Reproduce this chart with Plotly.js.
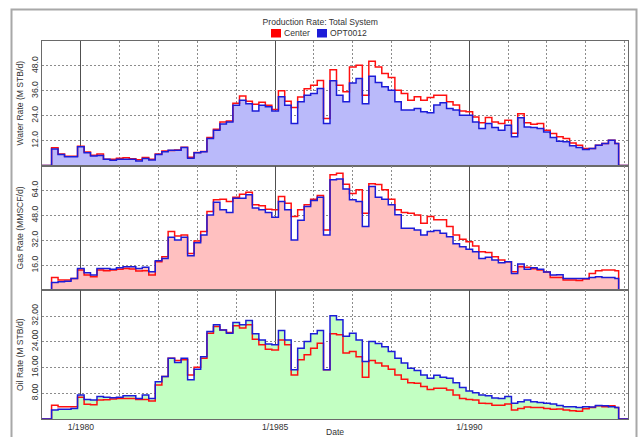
<!DOCTYPE html>
<html>
<head>
<meta charset="utf-8">
<script src="https://cdn.plot.ly/plotly-3.0.1.min.js"></script>
<style>html,body{margin:0;padding:0;background:#fff;}#chart{width:638px;height:437px;}</style>
</head>
<body>
<div id="chart"></div>
<script>
// Bi-monthly step dates (start of each step)
const dates = [
"1979-04","1979-06","1979-08","1979-10","1979-12",
"1980-02","1980-04","1980-06","1980-08","1980-10","1980-12",
"1981-02","1981-04","1981-06","1981-08","1981-10","1981-12",
"1982-02","1982-04","1982-06","1982-08","1982-10","1982-12",
"1983-02","1983-04","1983-06","1983-08","1983-10","1983-12",
"1984-02","1984-04","1984-06","1984-08","1984-10","1984-12",
"1985-02","1985-04","1985-06","1985-08","1985-10","1985-12",
"1986-02","1986-04","1986-06","1986-08","1986-10","1986-12",
"1987-02","1987-04","1987-06","1987-08","1987-10","1987-12",
"1988-02","1988-04","1988-06","1988-08","1988-10","1988-12",
"1989-02","1989-04","1989-06","1989-08","1989-10","1989-12",
"1990-02","1990-04","1990-06","1990-08","1990-10","1990-12",
"1991-02","1991-04","1991-06","1991-08","1991-10","1991-12",
"1992-02","1992-04","1992-06","1992-08","1992-10","1992-12",
"1993-02","1993-04","1993-06","1993-08","1993-10"];
const startDate = "1979-01-01";
const endDate = "1993-11-05";
const rangeEnd = "1994-02-01";

const seriesNames = ["Center", "OPT0012"];

const waterCenter = [8.5,5.5,4.5,4.5,9.3,6.5,5.0,5.5,3.0,3.0,3.5,3.7,3.3,2.8,3.8,3.0,5.5,7.0,7.2,7.5,8.8,4.0,6.3,6.8,13.5,17.5,21.0,21.5,30.0,33.5,31.0,29.5,30.5,29.0,27.0,36.0,31.0,28.0,33.0,37.0,38.7,41.0,22.6,46.1,38.7,35.5,47.5,48.3,33.9,50.3,47.5,44.3,42.4,36.3,34.7,31.5,33.1,31.5,32.8,33.9,33.9,30.7,29.1,26.3,25.9,23.4,20.6,23.1,21.0,20.2,21.8,15.5,25.0,20.6,19.9,20.2,17.0,15.4,13.8,13.0,10.9,9.8,8.2,8.2,9.8,10.6,12.2,10.6];
const waterOpt = [8.0,5.3,4.2,4.2,9.0,6.2,4.6,4.8,3.0,2.5,3.0,3.0,3.0,2.2,3.4,2.6,5.3,6.6,7.4,7.4,8.7,3.5,6.2,6.6,13.0,17.0,20.0,21.0,29.0,31.5,29.8,26.3,29.0,28.3,26.3,33.1,29.0,20.2,30.7,33.9,34.7,37.1,20.2,40.8,33.9,30.7,39.8,41.9,29.8,43.0,40.0,37.9,36.3,30.7,26.7,26.7,27.5,25.9,25.4,29.1,30.2,27.5,26.7,24.2,24.2,21.0,17.8,20.2,18.3,17.0,19.4,13.8,23.0,18.6,18.3,17.8,16.2,13.5,11.7,11.4,9.5,8.7,7.7,8.2,9.8,10.6,12.2,10.6];

const gasCenter = [8.3,6.6,6.6,7.7,13.0,9.8,8.8,13.0,12.6,13.0,13.5,14.1,13.7,12.4,12.6,9.8,18.4,21.6,37.7,34.9,35.5,23.7,31.6,37.7,50.5,58.0,58.4,57.0,59.7,61.6,62.9,54.8,54.2,52.0,51.6,60.2,55.9,47.3,51.6,54.8,58.4,60.8,38.7,74.1,75.1,68.0,62.0,64.4,49.4,68.3,67.8,64.4,58.4,51.6,49.9,49.4,48.3,43.0,47.3,45.2,45.2,40.9,35.5,32.7,31.2,28.4,24.8,24.2,21.6,19.5,18.4,12.0,15.2,14.8,13.9,13.0,11.8,8.3,8.3,6.6,6.6,6.4,7.3,10.9,12.6,13.0,13.0,12.6];
const gasOpt = [5.1,5.5,5.8,7.7,14.1,11.3,9.8,14.1,14.1,13.5,14.5,15.2,15.2,14.1,14.8,12.0,19.0,20.5,34.0,32.3,34.0,22.2,30.6,35.5,48.3,56.5,51.6,49.9,59.1,59.1,61.2,52.7,51.6,49.9,46.9,57.0,51.6,32.3,45.0,53.7,57.6,59.7,35.5,70.8,71.3,65.0,58.0,57.0,40.9,66.6,59.7,58.4,54.8,48.4,39.8,39.8,38.7,35.5,37.7,38.3,36.6,34.4,29.8,28.0,26.3,24.8,20.5,21.2,19.5,17.7,18.4,10.9,16.9,13.5,14.5,13.5,11.8,9.8,10.0,7.7,7.7,7.7,7.7,8.3,8.8,8.3,8.3,7.7];

const oilCenter = [4.3,3.8,3.8,3.8,6.8,4.6,4.4,5.9,6.0,6.2,6.4,6.4,6.4,6.1,6.1,5.6,10.6,13.2,18.9,18.2,18.4,13.7,16.1,18.9,26.7,28.8,27.7,26.9,29.0,28.3,29.3,24.8,23.1,21.7,21.5,24.6,23.1,13.7,18.4,20.0,22.0,23.6,15.3,26.5,26.2,20.5,21.0,19.4,13.0,18.2,17.4,16.5,15.5,13.7,12.4,11.3,11.1,10.1,9.2,9.6,9.6,9.0,7.5,6.4,6.1,5.9,4.9,4.8,4.3,4.3,4.7,2.8,3.3,3.7,3.6,3.6,3.3,3.0,3.1,2.8,2.6,2.4,3.2,3.6,4.1,3.8,4.1,3.6];
const oilOpt = [2.8,3.0,3.0,3.3,7.5,6.1,5.9,7.0,6.8,6.6,6.8,7.2,7.2,6.4,7.5,6.4,11.6,13.2,18.9,17.6,18.9,12.2,15.5,19.4,27.2,29.3,27.7,26.7,30.0,29.3,30.6,26.5,24.6,23.3,23.1,27.5,24.6,15.3,22.0,24.1,26.5,27.5,15.3,32.1,30.9,25.7,26.7,24.6,17.9,24.1,23.5,22.5,21.0,18.9,17.4,15.8,15.1,13.7,12.7,13.6,13.0,12.7,11.3,9.8,8.7,8.2,7.5,7.2,6.5,6.4,7.0,4.9,5.4,5.9,5.4,5.1,4.9,4.7,4.2,3.8,3.8,3.6,3.8,3.7,4.2,4.1,3.8,3.6];

const panels = [
  {center: waterCenter, opt: waterOpt, fill: "rgba(186,186,250,1)", title: "Water Rate (M STB/d)", range: [0, 60], ticks: [12, 24, 36, 48], fmt: ".1f"},
  {center: gasCenter, opt: gasOpt, fill: "rgba(255,192,192,1)", title: "Gas Rate (MMSCF/d)", range: [0, 80], ticks: [16, 32, 48, 64], fmt: ".1f"},
  {center: oilCenter, opt: oilOpt, fill: "rgba(194,255,194,1)", title: "Oil Rate (M STB/d)", range: [0, 40], ticks: [8, 16, 24, 32], fmt: ".2f"}
];

(function () {
  const xs = [startDate].concat(dates, [endDate, rangeEnd]);
  const pad = v => [0].concat(v, [0, 0]);
  const RED = "#ff1010", BLUE = "#1c1cd8";

  const data = [];
  panels.forEach((p, k) => {
    const ax = k === 0 ? "" : String(k + 1);
    data.push({x: xs, y: pad(p.opt), xaxis: "x" + ax, yaxis: "y" + ax, type: "scatter", mode: "lines",
      line: {shape: "hv", width: 0, color: p.fill}, fill: "tozeroy", fillcolor: p.fill, hoverinfo: "skip", showlegend: false});
    data.push({x: xs, y: pad(p.center), xaxis: "x" + ax, yaxis: "y" + ax, type: "scatter", mode: "lines",
      name: seriesNames[0], line: {shape: "hv", width: 1.5, color: RED}, showlegend: false});
    data.push({x: xs, y: pad(p.opt), xaxis: "x" + ax, yaxis: "y" + ax, type: "scatter", mode: "lines",
      name: seriesNames[1], line: {shape: "hv", width: 1.5, color: BLUE}, showlegend: false});
  });

  const TOP = 41, BOT = 419, H = BOT - TOP;
  const bounds = [[41, 165.5], [165.5, 290.4], [290.4, 419]];
  const dom = b => [(BOT - b[1]) / H, (BOT - b[0]) / H];
  const L = 42, R = 628, W = R - L;
  const px = v => (v - L) / W;
  const py = v => (BOT - v) / H;

  const FONT = "Liberation Sans, Arial, Helvetica, sans-serif";
  const layout = {
    width: 638, height: 437,
    margin: {l: L, r: 638 - R, t: TOP, b: 437 - BOT, pad: 0},
    paper_bgcolor: "#ffffff", plot_bgcolor: "#ffffff",
    showlegend: false,
    font: {family: FONT, size: 8.6, color: "#333333"},
    title: {text: "Production Rate: Total System", xref: "container", x: 0.502, yref: "container", y: 1 - 21.7 / 437,
      xanchor: "center", yanchor: "middle", font: {family: FONT, size: 8.6, color: "#333333"}},
    shapes: [
      {type: "rect", xref: "paper", yref: "paper", x0: px(11.5), x1: px(636.5), y0: py(450), y1: py(9.5),
        line: {color: "#a8a8a8", width: 2}, fillcolor: "rgba(0,0,0,0)", layer: "below"},
      {type: "rect", xref: "paper", yref: "paper", x0: px(271), x1: px(281), y0: py(37.5), y1: py(29),
        line: {width: 0}, fillcolor: "#ff0000"},
      {type: "rect", xref: "paper", yref: "paper", x0: px(317), x1: px(327), y0: py(37.5), y1: py(29),
        line: {width: 0}, fillcolor: "#1c1cd8"}
    ],
    annotations: [
      {text: seriesNames[0], xref: "paper", yref: "paper", x: px(281.5), y: py(33.3), xanchor: "left", yanchor: "middle", showarrow: false, font: {size: 8.6}},
      {text: seriesNames[1], xref: "paper", yref: "paper", x: px(327.5), y: py(33.3), xanchor: "left", yanchor: "middle", showarrow: false, font: {size: 8.6}}
    ]
  };

  panels.forEach((p, k) => {
    const ax = k === 0 ? "" : String(k + 1);
    layout["xaxis" + ax] = {
      type: "date", range: [startDate, rangeEnd], anchor: "y" + ax,
      tick0: "1980-01-01", dtick: "M60", tickformat: "%-m/%Y",
      showticklabels: k === 2, ticks: "",
      showgrid: true, gridcolor: "#505050", gridwidth: 1,
      minor: {tick0: "1979-01-01", dtick: "M12", showgrid: true, gridcolor: "#8c8c8c", griddash: "2px,2px", gridwidth: 1, ticks: ""},
      showline: true, mirror: true, linecolor: "#6a6a6a", linewidth: 1, zeroline: false,
      tickfont: {size: 8.6, color: "#333333"},
      title: k === 2 ? {text: "Date", standoff: 1, font: {size: 8.6, color: "#333333"}} : {text: ""}
    };
    layout["yaxis" + ax] = {
      domain: dom(bounds[k]), anchor: "x" + ax, range: p.range,
      tickvals: p.ticks, tickformat: p.fmt, tickangle: -90, ticks: "",
      showgrid: true, gridcolor: "#8c8c8c", griddash: "2px,2px", gridwidth: 1,
      showline: true, mirror: true, linecolor: "#6a6a6a", linewidth: 1, zeroline: false,
      tickfont: {size: 8.6, color: "#333333"},
      title: {text: p.title, standoff: 4, font: {size: 8.6, color: "#333333"}}
    };
  });

  Plotly.newPlot("chart", data, layout, {displayModeBar: false, staticPlot: true});
})();
</script>
</body>
</html>
